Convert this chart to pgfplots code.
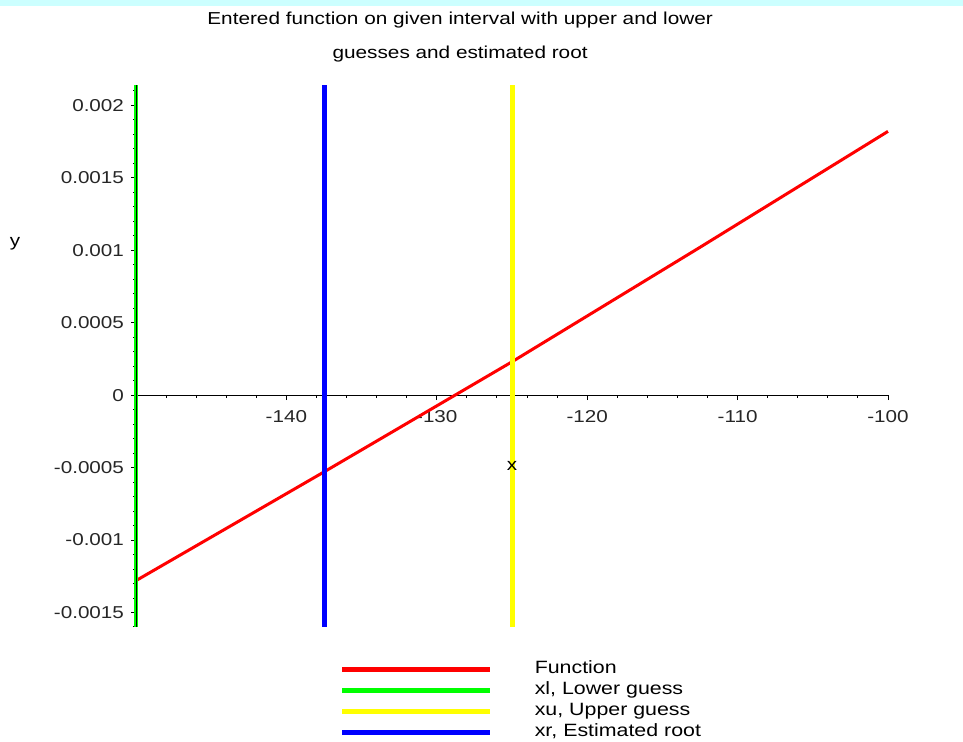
\documentclass[border=0pt]{standalone}
\usepackage{pgfplots}
\pgfplotsset{compat=1.18}
\usepackage{fontspec}
\setmainfont{Liberation Sans}[FakeStretch=1.2]
\definecolor{mred}{RGB}{255,0,0}
\definecolor{mgreen}{RGB}{0,255,0}
\definecolor{myellow}{RGB}{255,255,0}
\definecolor{mblue}{RGB}{0,0,255}
\definecolor{band}{RGB}{204,255,255}
\begin{document}
\begin{tikzpicture}
\path[use as bounding box] (0,0) rectangle (481.5pt,371pt);
\fill[band] (0,368pt) rectangle (481.5pt,371pt);
\begin{axis}[
  at={(68pt,57.5pt)}, anchor=south west,
  scale only axis, width=376pt, height=271pt,
  xmin=-150, xmax=-100, ymin=-0.0016, ymax=0.00214,
  axis x line=middle, axis y line=left,
  axis line style={black, line width=0.5pt, -},
  tick align=outside,
  major tick length=2.5pt, minor tick length=1.5pt,
  tick style={black, line width=0.5pt},
  xtick={-150,-140,-130,-120,-110,-100},
  xticklabels={,-140,-130,-120,-110,-100},
  minor xtick={-148,-146,-144,-142,-138,-136,-134,-132,-128,-126,-124,-122,-118,-116,-114,-112,-108,-106,-104,-102},
  ytick={-0.0015,-0.001,-0.0005,0,0.0005,0.001,0.0015,0.002},
  yticklabels={-0.0015,-0.001,-0.0005,0,0.0005,0.001,0.0015,0.002},
  minor ytick={-0.0016,-0.0014,-0.0013,-0.0012,-0.0011,-0.0009,-0.0008,-0.0007,-0.0006,-0.0004,-0.0003,-0.0002,-0.0001,0.0001,0.0002,0.0003,0.0004,0.0006,0.0007,0.0008,0.0009,0.0011,0.0012,0.0013,0.0014,0.0016,0.0017,0.0018,0.0019,0.0021},
  scaled y ticks=false,
  /pgf/number format/assume math mode=true,
  tick label style={font=\fontsize{8.6}{9}\selectfont, text=black!85},
  xticklabel style={yshift=-1.5pt},
  yticklabel style={xshift=0pt},
  xlabel={x}, ylabel={y},
  label style={font=\fontsize{8.6}{9}\selectfont},
  xlabel style={at={(rel axis cs:0.5,0.297)}, anchor=center},
  ylabel style={at={(rel axis cs:-0.161,0.708)}, anchor=center, rotate=-90},
  title={Entered function on given interval with upper and lower\\guesses and estimated root},
  title style={at={(rel axis cs:0.431,1.066)}, anchor=center, align=center, font=\fontsize{8.65}{17}\selectfont},
  legend style={draw=none, fill=none, at={(rel axis cs:0.271,-0.063)}, anchor=north west,
    inner sep=0pt, outer sep=0pt, row sep=2.6pt,
    nodes={inner sep=0pt, font=\fontsize{8.9}{8.9}\selectfont, text height=6pt, text depth=2pt},
    /tikz/every odd column/.append style={column sep=21pt}},
  legend cell align=left,
  legend image code/.code={\draw[#1, line width=2.5pt] (0pt,0pt) -- (74pt,0pt);},
  clip=false,
]
\addplot[mred, line width=1.5pt] coordinates {(-150,-0.00128) (-137.5,-0.00053) (-125,0.00023) (-112.5,0.00102) (-100,0.00182)};
\addlegendentry{Function}
\addplot[mgreen, line width=2pt] coordinates {(-150,-0.0016) (-150,0.00214)};
\addlegendentry{xl, Lower guess}
\addplot[myellow, line width=2.5pt] coordinates {(-125,-0.0016) (-125,0.00214)};
\addlegendentry{xu, Upper guess}
\addplot[mblue, line width=2.5pt] coordinates {(-137.5,-0.0016) (-137.5,0.00214)};
\addlegendentry{xr, Estimated root}
\addplot[black, line width=0.5pt, forget plot] coordinates {(-150,-0.0016) (-150,0.00214)};
\end{axis}
\end{tikzpicture}
\end{document}
